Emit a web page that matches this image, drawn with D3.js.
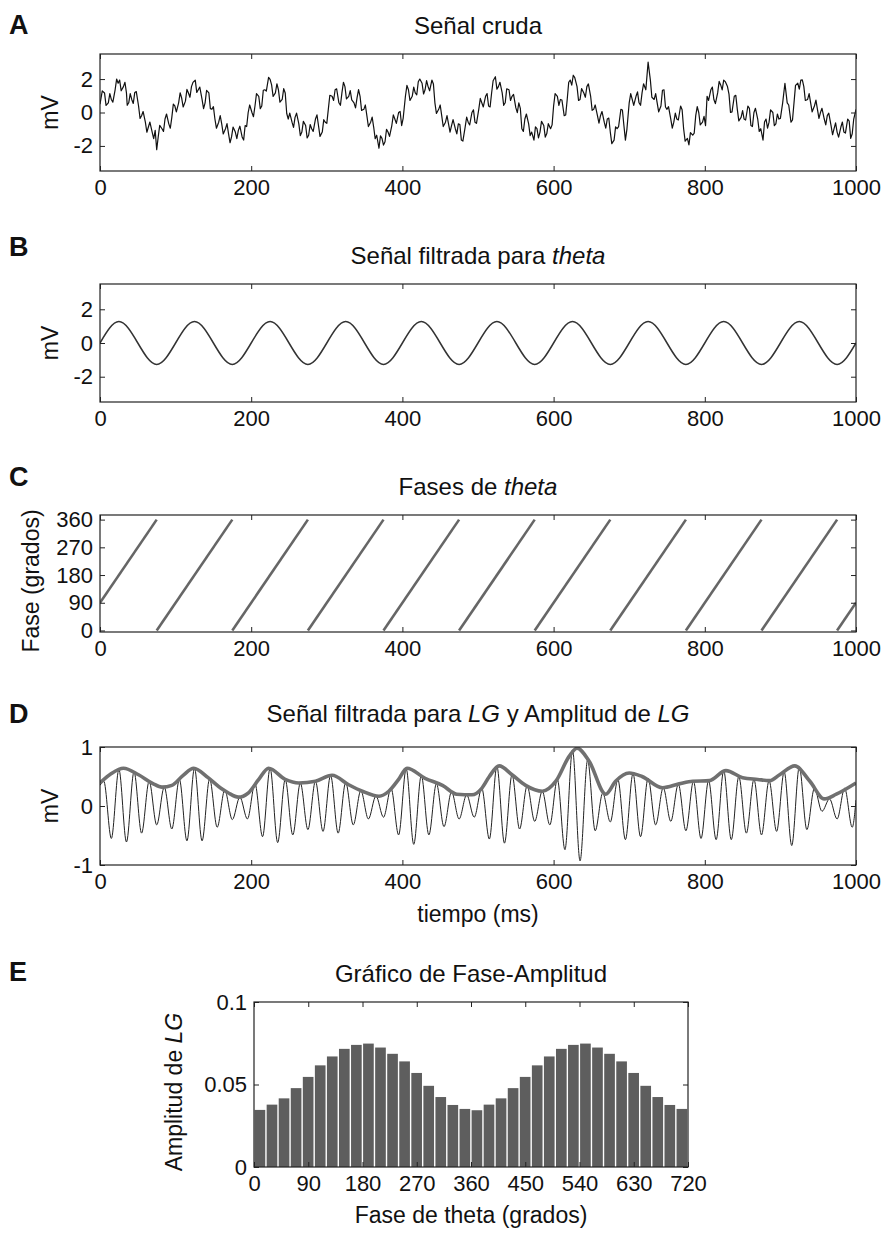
<!DOCTYPE html>
<html><head><meta charset="utf-8">
<script src="https://cdn.jsdelivr.net/npm/d3@7"></script>
<style>
body{margin:0;background:#fff}
svg{display:block}
</style>
</head><body>
<svg id="chart" width="889" height="1239"></svg>
<script>
// ---------------- DATA ----------------
const timeTicks = [0, 200, 400, 600, 800, 1000];
const mvTicks = [-2, 0, 2];
const phaseTicks = [0, 90, 180, 270, 360];
const lgTicks = [-1, 0, 1];
const histPhaseTicks = [0, 90, 180, 270, 360, 450, 540, 630, 720];
const histAmpTicks = [0, 0.05, 0.1];

// A: raw signal [time ms, mV]
const rawSignal = [[0,0.5],[3,1.29],[6,1.17],[8,0.43],[11,0.58],[13,1.13],[15,0.78],[17,0.62],[20,1.36],[22,2.0],[24,1.75],[26,1.94],[28,1.3],[31,1.55],[33,1.81],[35,1.17],[36,0.43],[38,0.58],[40,1.13],[42,0.78],[44,0.54],[46,1.2],[48,1.25],[51,0.39],[53,-0.35],[55,-0.19],[57,0.06],[60,-0.58],[62,-1.18],[64,-0.87],[66,-0.57],[69,-1.17],[71,-1.57],[73,-1.07],[75,-2.23],[77,-1.46],[79,-0.77],[82,-0.97],[84,-1.13],[86,-0.39],[88,-0.09],[91,-0.68],[93,-0.94],[95,-0.29],[97,0.5],[99,0.39],[101,0.04],[104,0.58],[106,1.18],[108,0.87],[110,0.33],[113,0.68],[115,1.38],[117,1.17],[119,0.91],[121,1.55],[123,1.8],[126,1.94],[128,1.2],[130,1.36],[132,1.52],[135,0.78],[137,0.23],[139,0.58],[141,1.33],[144,1.17],[146,0.23],[148,0.19],[150,0.35],[152,-0.39],[154,-0.94],[157,-0.58],[159,-0.18],[161,-0.68],[163,-1.28],[166,-0.97],[168,-0.67],[170,-1.26],[172,-1.81],[174,-1.46],[176,-0.87],[179,-1.17],[181,-1.57],[183,-1.07],[185,-0.82],[188,-1.46],[190,-1.65],[192,-0.78],[194,-0.84],[196,0],[198,0.45],[201,0],[203,-0.25],[205,0.39],[207,1.13],[210,0.97],[212,0.23],[214,0.39],[216,1.33],[218,1.36],[220,1.28],[223,2.1],[225,1.98],[227,1.65],[229,0.96],[232,1.17],[234,1.72],[236,1.36],[238,0.62],[241,0.78],[243,1.43],[245,1.17],[247,-0.06],[249,-0.39],[251,-0.04],[254,-0.58],[256,-0.89],[258,-0.29],[260,-0.04],[263,-0.68],[265,-1.38],[267,-1.17],[269,-0.53],[272,-0.78],[274,-1.52],[276,-1.36],[278,-0.72],[280,-0.97],[282,-1.13],[285,-0.39],[287,-0.14],[289,-0.78],[291,-1.43],[294,-1.17],[296,-0.43],[298,-0.58],[300,-0.65],[302,0.19],[304,1.03],[307,0.97],[309,0.72],[311,1.36],[313,1.42],[316,0.58],[318,0.43],[320,1.17],[322,1.81],[324,1.55],[326,0.81],[329,0.97],[331,1.31],[333,0.75],[336,0.58],[338,0.28],[340,0.87],[342,1.37],[344,0.97],[346,0.13],[349,0.19],[351,0.45],[353,-0.19],[355,-0.84],[358,-0.58],[360,-0.28],[362,-0.87],[364,-1.57],[366,-1.36],[369,-2.14],[371,-1.4],[373,-1.55],[375,-1.95],[377,-1.75],[379,-1.01],[381,-1.17],[383,-1.43],[386,-0.78],[388,-0.14],[390,-0.39],[392,-0.65],[395,0],[397,0.06],[399,-0.78],[401,-0.35],[404,0.97],[406,1.62],[408,1.36],[410,0.72],[413,0.97],[415,1.52],[417,1.17],[419,1.06],[421,1.84],[423,2.0],[426,1.75],[428,1.11],[430,1.36],[432,1.91],[434,1.55],[436,1.3],[439,1.94],[441,1.71],[443,0.58],[445,-0.06],[448,0.19],[450,0.45],[452,-0.19],[454,-0.84],[457,-0.58],[459,-0.18],[461,-0.68],[463,-1.18],[465,-0.78],[467,-0.43],[470,-0.97],[472,-1.28],[474,-0.68],[476,-0.72],[478,-1.65],[480,-1.71],[483,-0.87],[485,-0.28],[487,-0.58],[489,-0.74],[492,0],[494,0.16],[496,-0.58],[498,-0.65],[501,0.19],[503,0.84],[505,0.58],[507,0.33],[510,0.97],[512,1.13],[514,0.39],[516,0.33],[518,1.17],[520,1.9],[523,2.14],[525,1.4],[527,1.55],[529,1.81],[532,1.17],[534,0.43],[536,0.58],[538,1.42],[541,1.36],[543,0.72],[545,0.97],[547,1.08],[550,0.29],[552,-0.01],[554,0.58],[556,0.25],[558,-0.97],[560,-1.13],[562,-0.39],[564,-0.09],[567,-0.68],[569,-1.38],[571,-1.17],[574,-1.65],[576,-0.86],[578,-0.97],[580,-1.52],[582,-1.17],[584,-0.53],[587,-0.78],[589,-1.47],[591,-1.26],[593,-0.67],[596,-0.97],[598,-0.74],[600,0.39],[602,1.13],[605,0.97],[607,0.43],[609,0.78],[611,0.75],[614,-0.19],[616,-0.15],[618,0.78],[620,1.81],[622,1.94],[624,1.64],[626,2.23],[628,2.09],[631,1.55],[633,0.72],[635,0.78],[637,1.43],[640,1.17],[642,0.91],[644,1.55],[646,1.71],[649,0.97],[651,0.13],[653,0.19],[655,0.45],[658,-0.19],[660,-0.64],[662,-0.19],[664,0.06],[667,-0.58],[669,-0.94],[671,-0.39],[673,-0.33],[675,-1.17],[677,-1.86],[680,-1.65],[682,-0.86],[684,-0.97],[686,-0.84],[689,0.19],[691,0.15],[693,-0.78],[695,-1.65],[697,-0.99],[700,0.58],[702,1.13],[704,0.78],[706,0.43],[709,0.97],[711,1.23],[713,0.58],[715,0.43],[717,1.17],[719,1.72],[722,1.36],[725,3.01],[728,1.94],[730,0.91],[733,0.78],[735,1.13],[737,0.58],[739,0.04],[742,0.39],[744,1.33],[746,1.36],[748,0.33],[750,0.19],[752,0.35],[755,-0.39],[757,-0.94],[759,-0.58],[761,-0.04],[763,-0.39],[765,-0.45],[768,0.39],[770,0.16],[772,-0.97],[774,-1.71],[777,-1.55],[779,-1.94],[781,-1.2],[784,-1.36],[786,-1.23],[788,-0.19],[790,0.35],[792,0],[794,-0.74],[797,-0.58],[799,-0.23],[801,-0.78],[803,0.97],[805,0.72],[808,1.36],[810,1.52],[812,0.78],[814,0.53],[817,1.17],[819,1.86],[821,1.65],[823,1.35],[825,1.94],[827,1.85],[830,1.55],[832,1.1],[834,0],[836,0.04],[839,0.97],[841,1.03],[843,0.19],[845,-0.5],[848,-0.29],[850,0.11],[852,-0.39],[854,-0.45],[857,0.39],[859,0.25],[861,-0.78],[863,-0.84],[865,0],[867,0.25],[870,-0.39],[872,-1.13],[874,-0.97],[877,-1.65],[879,-0.57],[881,-0.39],[883,-0.94],[885,-0.58],[887,0.16],[890,0],[892,-0.79],[894,-0.68],[896,-0.09],[898,-0.39],[900,-0.35],[903,0.58],[906,1.75],[909,0.58],[911,0.45],[914,-0.58],[916,-0.45],[918,0.58],[920,1.62],[923,1.75],[925,1.4],[927,1.94],[929,1.95],[931,1.55],[933,0.72],[936,0.78],[938,1.13],[940,0.58],[942,0.04],[945,0.39],[947,0.74],[949,0.19],[951,-0.35],[953,0],[955,0.25],[958,-0.39],[960,-0.74],[962,-0.19],[964,-0.04],[967,-0.78],[969,-1.33],[971,-0.97],[973,-0.62],[975,-1.17],[977,-1.47],[980,-0.87],[982,-0.57],[984,-1.17],[986,-1.23],[989,-0.39],[991,-0.52],[993,-1.55],[995,-1.27],[997,-0.39],[1000,0.19]];

// B: theta-filtered signal (zero crossings, peaks, troughs)
const thetaTime = [0,25,50,75,100,125,150,175,200,225,250,275,300,325,350,375,400,425,450,475,500,525,550,575,600,625,650,675,700,725,750,775,800,825,850,875,900,925,950,975,1000];
const thetaValue = [0,1.27,0,-1.27,0,1.27,0,-1.27,0,1.27,0,-1.27,0,1.27,0,-1.27,0,1.27,0,-1.27,0,1.27,0,-1.27,0,1.27,0,-1.27,0,1.27,0,-1.27,0,1.27,0,-1.27,0,1.27,0,-1.27,0];

// C: theta phase segments (start/end time, start/end phase)
const phaseSegStart = [0,75,175,275,375,475,575,675,775,875,975];
const phaseSegEnd   = [75,175,275,375,475,575,675,775,875,975,1000];
const phaseStartVal = [90,0,0,0,0,0,0,0,0,0,0];
const phaseEndVal   = [360,360,360,360,360,360,360,360,360,360,90];

// D: low-gamma filtered signal extrema
const lgTime = [0,5,15,25,35,45,55,65,75,85,95,105,115,125,135,145,155,165,175,185,195,205,215,225,235,245,255,265,275,285,295,305,315,325,335,345,355,365,375,385,395,405,415,425,435,445,455,465,475,485,495,505,515,525,535,545,555,565,575,585,595,605,615,625,635,645,655,665,675,685,695,705,715,725,735,745,755,765,775,785,795,805,815,825,835,845,855,865,875,885,895,905,915,925,935,945,955,965,975,985,995,1000];
const lgValue = [0.35,0.42,-0.55,0.62,-0.61,0.58,-0.46,0.42,-0.32,0.32,-0.39,0.45,-0.59,0.64,-0.59,0.46,-0.36,0.27,-0.23,0.15,-0.22,0.38,-0.52,0.64,-0.62,0.45,-0.49,0.39,-0.40,0.42,-0.43,0.52,-0.46,0.40,-0.32,0.26,-0.22,0.17,-0.19,0.30,-0.49,0.63,-0.65,0.52,-0.49,0.38,-0.35,0.24,-0.22,0.19,-0.19,0.30,-0.56,0.67,-0.63,0.53,-0.39,0.34,-0.26,0.25,-0.32,0.45,-0.74,0.95,-0.93,0.78,-0.42,0.22,-0.27,0.45,-0.57,0.55,-0.52,0.47,-0.32,0.31,-0.26,0.37,-0.42,0.42,-0.55,0.43,-0.57,0.60,-0.57,0.50,-0.46,0.45,-0.49,0.43,-0.43,0.58,-0.67,0.66,-0.40,0.30,-0.09,0.12,-0.22,0.30,-0.36,0.1];

// D: low-gamma amplitude envelope
const envTime = [0,15,31,51,70,82,95,110,124,143,160,170,183,196,210,223,245,263,285,307,329,347,369,382,395,406,430,453,472,492,505,515,528,545,563,585,603,621,631,647,669,682,700,717,744,766,784,806,828,850,870,886,899,919,939,958,974,1000];
const envValue = [0.39,0.55,0.64,0.53,0.38,0.32,0.35,0.52,0.64,0.48,0.3,0.22,0.15,0.22,0.45,0.64,0.45,0.39,0.42,0.52,0.36,0.25,0.165,0.25,0.45,0.64,0.47,0.35,0.2,0.19,0.3,0.5,0.68,0.53,0.35,0.25,0.42,0.85,0.98,0.76,0.2,0.42,0.56,0.5,0.31,0.375,0.42,0.43,0.6,0.48,0.45,0.43,0.53,0.68,0.42,0.12,0.2,0.39];

// E: phase-amplitude histogram (20-degree bins over 0-720)
const binStart = [0,20,40,60,80,100,120,140,160,180,200,220,240,260,280,300,320,340,360,380,400,420,440,460,480,500,520,540,560,580,600,620,640,660,680,700];
const binAmp = [0.0346,0.0378,0.0416,0.0478,0.0546,0.0616,0.067,0.0716,0.074,0.0748,0.0724,0.0686,0.064,0.057,0.0492,0.0424,0.0376,0.0352,0.0344,0.0378,0.0416,0.0478,0.0546,0.0616,0.067,0.0716,0.074,0.0748,0.0724,0.0686,0.064,0.057,0.0492,0.0424,0.0376,0.0352];

// ---------------- DRAWING ----------------
const FF = '"Liberation Sans", Arial, Helvetica, sans-serif';
const FS = 22;      // tick labels
const FT = 24;      // titles
const FL = 23;      // axis labels
const svg = d3.select("#chart");
svg.append("rect").attr("width", 889).attr("height", 1239).attr("fill", "#fff");

function panel(p) {
  const x = d3.scaleLinear().domain(p.xDomain).range([p.left, p.right]);
  const y = d3.scaleLinear().domain(p.yDomain).range([p.bottom, p.top]);
  const g = svg.append("g");
  const cid = "clip_" + p.key;
  svg.append("clipPath").attr("id", cid).append("rect")
    .attr("x", p.left).attr("y", p.top).attr("width", p.right - p.left).attr("height", p.bottom - p.top);
  const plot = g.append("g").attr("clip-path", `url(#${cid})`);
  return { x, y, g, plot, p };
}

function axes(P) {
  const { x, y, g, p } = P;
  const tl = 5;
  const fmt = d => String(d);
  const styleAx = sel => {
    sel.attr("font-family", FF).attr("font-size", FS);
    sel.select(".domain").remove();
    sel.selectAll(".tick line").attr("stroke", "#222").attr("stroke-width", 1);
    sel.selectAll(".tick text").attr("fill", "#111");
  };
  g.append("g").attr("transform", `translate(0,${p.bottom})`)
    .call(d3.axisBottom(x).tickValues(p.xTicks).tickSizeInner(-tl).tickSizeOuter(0).tickPadding(8).tickFormat(fmt))
    .call(styleAx);
  g.append("g").attr("transform", `translate(0,${p.top})`)
    .call(d3.axisTop(x).tickValues(p.xTicks).tickSizeInner(-tl).tickSizeOuter(0).tickFormat(""))
    .call(styleAx);
  g.append("g").attr("transform", `translate(${p.left},0)`)
    .call(d3.axisLeft(y).tickValues(p.yTicks).tickSizeInner(-tl).tickSizeOuter(0).tickPadding(7).tickFormat(fmt))
    .call(styleAx);
  g.append("g").attr("transform", `translate(${p.right},0)`)
    .call(d3.axisRight(y).tickValues(p.yTicks).tickSizeInner(-tl).tickSizeOuter(0).tickFormat(""))
    .call(styleAx);
  g.append("rect").attr("x", p.left).attr("y", p.top)
    .attr("width", p.right - p.left).attr("height", p.bottom - p.top)
    .attr("fill", "none").attr("stroke", "#222").attr("stroke-width", 1.2);
}

function richText(x, y, parts, opts = {}) {
  const t = svg.append("text").attr("x", x).attr("y", y)
    .attr("font-family", FF).attr("font-size", opts.size || FT).attr("fill", "#111")
    .attr("text-anchor", "middle");
  if (opts.rotate) t.attr("transform", `rotate(-90,${x},${y})`).attr("dominant-baseline", "central");
  parts.forEach(([s, it]) => t.append("tspan").text(s).attr("font-style", it ? "italic" : "normal"));
  return t;
}
function letter(s, y) {
  svg.append("text").attr("x", 9).attr("y", y).text(s)
    .attr("font-family", FF).attr("font-size", 27).attr("font-weight", "bold").attr("fill", "#111");
}

const L = 100, R = 856;

// ---- A ----
letter("A", 34);
richText(478, 34, [["Señal cruda", false]]);
const A = panel({ key: "A", left: L, right: R, top: 54, bottom: 171, xDomain: [0, 1000], yDomain: [-3.5, 3.5], xTicks: timeTicks, yTicks: mvTicks });
A.plot.append("path").datum(rawSignal)
  .attr("d", d3.line().x(d => A.x(d[0])).y(d => A.y(d[1])))
  .attr("fill", "none").attr("stroke", "#111").attr("stroke-width", 1.2).attr("stroke-linejoin", "round");
axes(A);
richText(50, (54 + 171) / 2, [["mV", false]], { rotate: true, size: FL });

// ---- B ----
letter("B", 256);
richText(478, 264, [["Señal filtrada para ", false], ["theta", true]]);
const B = panel({ key: "B", left: L, right: R, top: 284, bottom: 402, xDomain: [0, 1000], yDomain: [-3.5, 3.5], xTicks: timeTicks, yTicks: mvTicks });
B.plot.append("path").datum(thetaTime.map((t, i) => [t, thetaValue[i]]))
  .attr("d", d3.line().curve(d3.curveNatural).x(d => B.x(d[0])).y(d => B.y(d[1])))
  .attr("fill", "none").attr("stroke", "#333").attr("stroke-width", 1.5);
axes(B);
richText(50, (284 + 402) / 2, [["mV", false]], { rotate: true, size: FL });

// ---- C ----
letter("C", 486);
richText(478, 495, [["Fases de ", false], ["theta", true]]);
const C = panel({ key: "C", left: L, right: R, top: 515, bottom: 632, xDomain: [0, 1000], yDomain: [-5, 375], xTicks: timeTicks, yTicks: phaseTicks });
C.plot.selectAll("line.seg").data(phaseSegStart).join("line").attr("class", "seg")
  .attr("x1", d => C.x(d)).attr("y1", (d, i) => C.y(phaseStartVal[i]))
  .attr("x2", (d, i) => C.x(phaseSegEnd[i])).attr("y2", (d, i) => C.y(phaseEndVal[i]))
  .attr("stroke", "#666").attr("stroke-width", 2.6);
axes(C);
richText(31, 581, [["Fase (grados)", false]], { rotate: true, size: FL });

// ---- D ----
letter("D", 723);
richText(478, 722, [["Señal filtrada para ", false], ["LG", true], [" y Amplitud de ", false], ["LG", true]]);
const D = panel({ key: "D", left: L, right: R, top: 747, bottom: 865, xDomain: [0, 1000], yDomain: [-1, 1], xTicks: timeTicks, yTicks: lgTicks });
D.plot.append("path").datum(lgTime.map((t, i) => [t, lgValue[i]]))
  .attr("d", d3.line().curve(d3.curveMonotoneX).x(d => D.x(d[0])).y(d => D.y(d[1])))
  .attr("fill", "none").attr("stroke", "#222").attr("stroke-width", 1);
D.plot.append("path").datum(envTime.map((t, i) => [t, envValue[i]]))
  .attr("d", d3.line().curve(d3.curveMonotoneX).x(d => D.x(d[0])).y(d => D.y(d[1])))
  .attr("fill", "none").attr("stroke", "#707070").attr("stroke-width", 3.6).attr("stroke-linejoin", "round");
axes(D);
richText(50, (747 + 865) / 2, [["mV", false]], { rotate: true, size: FL });
richText(478, 922, [["tiempo (ms)", false]], { size: FL });

// ---- E ----
letter("E", 981);
richText(471, 982, [["Gráfico de Fase-Amplitud", false]]);
const E = panel({ key: "E", left: 254, right: 688, top: 1002, bottom: 1167, xDomain: [0, 720], yDomain: [0, 0.1], xTicks: histPhaseTicks, yTicks: histAmpTicks });
E.plot.selectAll("rect.bar").data(binStart).join("rect").attr("class", "bar")
  .attr("x", d => E.x(d) + 0.6)
  .attr("width", d => E.x(d + 20) - E.x(d) - 1.4)
  .attr("y", (d, i) => E.y(binAmp[i]))
  .attr("height", (d, i) => E.y(0) - E.y(binAmp[i]))
  .attr("fill", "#5e5e5e");
axes(E);
richText(174, 1092, [["Amplitud de ", false], ["LG", true]], { rotate: true, size: FL });
richText(471, 1223, [["Fase de theta (grados)", false]], { size: FL });
</script>
</body></html>
